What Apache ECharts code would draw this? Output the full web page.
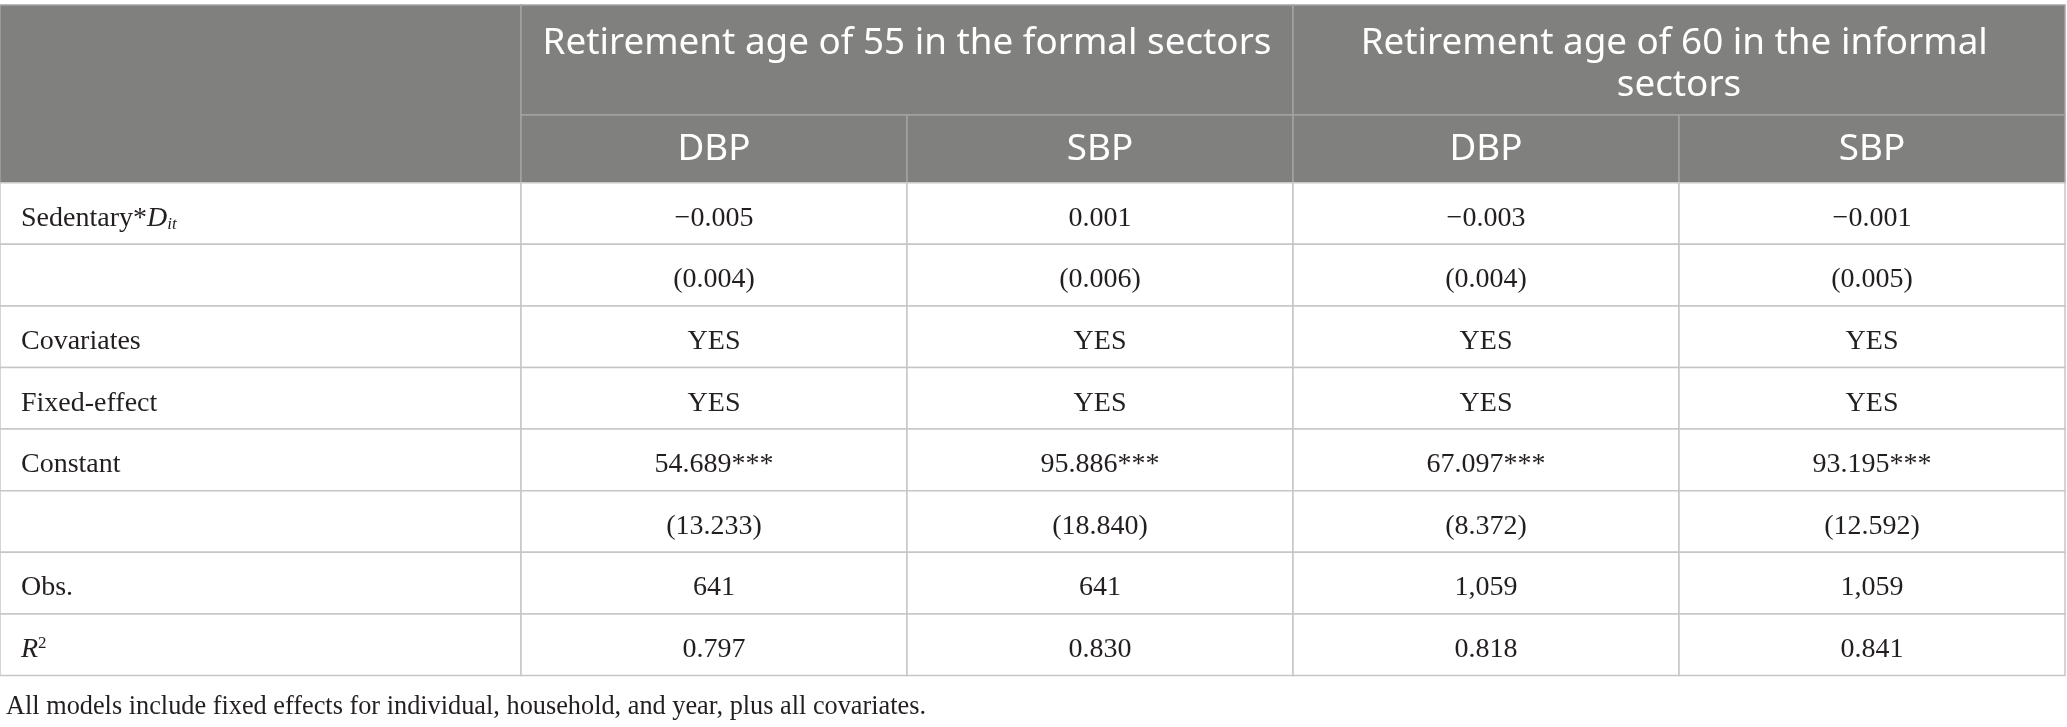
<!DOCTYPE html>
<html><head><meta charset="utf-8">
<script src="https://cdn.jsdelivr.net/npm/echarts@6/dist/echarts.min.js"></script>
<style>html,body{margin:0;padding:0;background:#fff}#main{width:2067px;height:727px}</style>
</head><body><div id="main"></div>
<script>
// ---- table content ----
const groupHeaders = ["Retirement age of 55 in the formal sectors", "Retirement age of 60 in the informal sectors"];
const subHeaders = ["DBP", "SBP", "DBP", "SBP"];
const rowLabels = ["{n|Sedentary*}{i|D}{sub|it}", "", "Covariates", "Fixed-effect", "Constant", "", "Obs.", "{i|R}{sup|2}"];
const dbp55 = ["\u22120.005", "(0.004)", "YES", "YES", "54.689***", "(13.233)", "641", "0.797"];
const sbp55 = ["0.001", "(0.006)", "YES", "YES", "95.886***", "(18.840)", "641", "0.830"];
const dbp60 = ["\u22120.003", "(0.004)", "YES", "YES", "67.097***", "(8.372)", "1,059", "0.818"];
const sbp60 = ["\u22120.001", "(0.005)", "YES", "YES", "93.195***", "(12.592)", "1,059", "0.841"];
const footnote = "All models include fixed effects for individual, household, and year, plus all covariates.";

// ---- layout (table units) ----
const colW = [521, 386, 386, 386, 386];
const headH = [110, 67.7];
const rowH = 61.6;

const colEdges = [0];
colW.forEach(w => colEdges.push(colEdges[colEdges.length - 1] + w));
const totalW = colEdges[colEdges.length - 1];
const totalH = headH[0] + headH[1] + rowH * rowLabels.length;

const cells = [];
// header row 1
cells.push({x0: 0, x1: colEdges[1], y0: 0, y1: headH[0] + headH[1], text: "", kind: "head"});
cells.push({x0: colEdges[1], x1: colEdges[3], y0: 0, y1: headH[0], text: groupHeaders[0], kind: "group"});
cells.push({x0: colEdges[3], x1: colEdges[5], y0: 0, y1: headH[0], text: groupHeaders[1], kind: "group"});
// header row 2
subHeaders.forEach((s, i) => cells.push({x0: colEdges[i + 1], x1: colEdges[i + 2], y0: headH[0], y1: headH[0] + headH[1], text: s, kind: "head"}));
// body
const cols = [dbp55, sbp55, dbp60, sbp60];
rowLabels.forEach((lab, r) => {
  const y0 = headH[0] + headH[1] + r * rowH, y1 = y0 + rowH;
  cells.push({x0: 0, x1: colEdges[1], y0, y1, text: lab, kind: "label"});
  cols.forEach((c, i) => cells.push({x0: colEdges[i + 1], x1: colEdges[i + 2], y0, y1, text: c[r], kind: "cell"}));
});

const serif = "'Liberation Serif', 'Times New Roman', serif";
const sans = "'Noto Sans', 'Open Sans', sans-serif";
const ink = "#231f20";

const chart = echarts.init(document.getElementById('main'), null, {renderer: 'canvas'});
chart.setOption({
  animation: false,
  backgroundColor: '#fff',
  title: {
    text: footnote, left: 1, top: 689,
    textStyle: {fontFamily: serif, fontSize: 26.3, fontWeight: 'normal', color: ink}
  },
  grid: {left: 0, top: 5, width: totalW, height: totalH},
  xAxis: {type: 'value', min: 0, max: totalW, show: false},
  yAxis: {type: 'value', min: 0, max: totalH, inverse: true, show: false},
  series: [{
    type: 'custom',
    data: cells.map(c => [c.x0, c.x1, c.y0, c.y1]),
    renderItem: function (params, api) {
      const c = cells[params.dataIndex];
      const p0 = api.coord([api.value(0), api.value(2)]);
      const p1 = api.coord([api.value(1), api.value(3)]);
      const x = p0[0], y = p0[1], w = p1[0] - p0[0], h = p1[1] - p0[1];
      const isHead = c.kind === 'head' || c.kind === 'group';
      const rect = {
        type: 'rect',
        shape: {x: x, y: y, width: w, height: h},
        style: {fill: isHead ? '#80817f' : '#fff', stroke: isHead ? '#a3a4a2' : '#c6c6c6', lineWidth: 1.5}
      };
      let txt;
      if (c.kind === 'group') {
        txt = {type: 'text', style: {
          text: c.text, x: x + w / 2, y: y + 17.5, align: 'center', verticalAlign: 'top',
          width: w - 32, overflow: 'break', lineHeight: 42,
          fontFamily: sans, fontSize: 36.8, fill: '#fff'
        }};
      } else if (c.kind === 'head') {
        txt = {type: 'text', style: {
          text: c.text, x: x + w / 2, y: y + h / 2 + 1, align: 'center', verticalAlign: 'middle',
          fontFamily: sans, fontSize: 36.8, fill: '#fff'
        }};
      } else if (c.kind === 'label') {
        txt = {type: 'text', style: {
          text: c.text, x: x + 21, y: y + h / 2 + 5, align: 'left', verticalAlign: 'middle',
          fontFamily: serif, fontSize: 28, fill: ink,
          rich: {
            n: {fontFamily: serif, fontSize: 28, fill: ink, lineHeight: 30},
            i: {fontFamily: serif, fontSize: 28, fontStyle: 'italic', fill: ink, lineHeight: 30},
            sub: {fontFamily: serif, fontSize: 17, fontStyle: 'italic', fill: ink, lineHeight: 17, verticalAlign: 'bottom'},
            sup: {fontFamily: serif, fontSize: 17, fill: ink, lineHeight: 17, verticalAlign: 'top'}
          }
        }};
      } else {
        txt = {type: 'text', style: {
          text: c.text, x: x + w / 2, y: y + h / 2 + 5, align: 'center', verticalAlign: 'middle',
          fontFamily: serif, fontSize: 28, fill: ink
        }};
      }
      return {type: 'group', children: [rect, txt]};
    }
  }]
});
</script>
</body></html>
